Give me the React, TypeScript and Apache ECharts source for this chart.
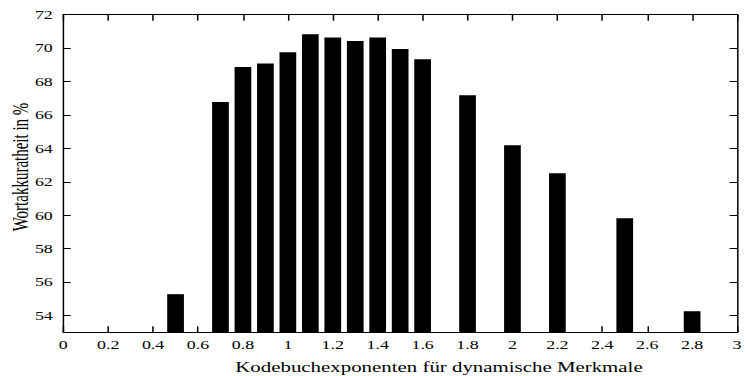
import React, { useEffect, useRef } from "react";
import * as echarts from "echarts";

// Data
const exponents: number[] = [0.5, 0.7, 0.8, 0.9, 1.0, 1.1, 1.2, 1.3, 1.4, 1.5, 1.6, 1.8, 2.0, 2.2, 2.5, 2.8];
const accuracy: number[] = [55.28, 66.78, 68.87, 69.08, 69.75, 70.83, 70.63, 70.43, 70.63, 69.95, 69.33, 67.18, 64.19, 62.51, 59.82, 54.26];
const yTicks: number[] = [54, 56, 58, 60, 62, 64, 66, 68, 70, 72];
const xLabel = "Kodebuchexponenten für dynamische Merkmale";
const yLabel = "Wortakkuratheit in %";

// The reference is horizontally stretched: draw at a narrower width and scale.
const SX = 1.492;
const W = 500;
const H = 376;
const FONT = "'Liberation Serif', 'Times New Roman', serif";

export default function App() {
  const ref = useRef<HTMLDivElement>(null);
  useEffect(() => {
    if (!ref.current) return;
    const chart = echarts.init(ref.current, null, { renderer: "svg" });
    const fmtX = (v: number) => String(Math.round(v * 10) / 10);
    chart.setOption({
      animation: false,
      backgroundColor: "#ffffff",
      textStyle: { fontFamily: FONT },
      grid: { left: 42.4, right: 2.35, top: 14.7, bottom: 43.7, containLabel: false },
      xAxis: [
        {
          type: "value",
          position: "bottom",
          min: 0,
          max: 3,
          interval: 0.2,
          axisLine: { show: true, onZero: false, lineStyle: { color: "#000", width: 1 } },
          axisTick: { show: true, inside: true, length: 6, lineStyle: { color: "#000" } },
          axisLabel: { color: "#000", fontSize: 12, fontFamily: FONT, margin: 6, formatter: fmtX },
          splitLine: { show: false },
        },
        {
          type: "value",
          position: "top",
          min: 0,
          max: 3,
          interval: 0.2,
          axisLine: { show: true, onZero: false, lineStyle: { color: "#000", width: 1 } },
          axisTick: { show: true, inside: true, length: 6, lineStyle: { color: "#000" } },
          axisLabel: { show: false },
          splitLine: { show: false },
        },
      ],
      yAxis: [
        {
          type: "value",
          position: "left",
          min: 53,
          max: 72,
          axisLine: { show: true, onZero: false, lineStyle: { color: "#000", width: 1 } },
          axisTick: { show: true, inside: true, length: 5, customValues: yTicks, lineStyle: { color: "#000" } },
          axisLabel: { color: "#000", fontSize: 12, fontFamily: FONT, margin: 7, customValues: yTicks },
          splitLine: { show: false },
        },
        {
          type: "value",
          position: "right",
          min: 53,
          max: 72,
          axisLine: { show: true, onZero: false, lineStyle: { color: "#000", width: 1 } },
          axisTick: { show: true, inside: true, length: 5, customValues: yTicks, lineStyle: { color: "#000" } },
          axisLabel: { show: false, customValues: yTicks },
          splitLine: { show: false },
        },
      ],
      graphic: [
        {
          type: "text",
          x: 294.2,
          y: 367,
          style: {
            text: xLabel,
            fontFamily: FONT,
            fontSize: 14,
            fill: "#000",
            align: "center",
            verticalAlign: "middle",
          },
        },
        {
          type: "text",
          x: 13.6,
          y: 167,
          rotation: Math.PI / 2,
          style: {
            text: yLabel,
            fontFamily: FONT,
            fontSize: 15,
            fill: "#000",
            align: "center",
            verticalAlign: "middle",
          },
        },
      ],
      series: [
        {
          type: "bar",
          xAxisIndex: 0,
          yAxisIndex: 0,
          barWidth: 11.2,
          clip: true,
          itemStyle: { color: "#000" },
          data: exponents.map((x, i) => [x, accuracy[i]]),
        },
      ],
    });
    return () => chart.dispose();
  }, []);
  return (
    <div
      ref={ref}
      style={{
        position: "fixed",
        left: 0,
        top: 0,
        width: W,
        height: H,
        transform: `scaleX(${SX})`,
        transformOrigin: "0 0",
      }}
    />
  );
}
